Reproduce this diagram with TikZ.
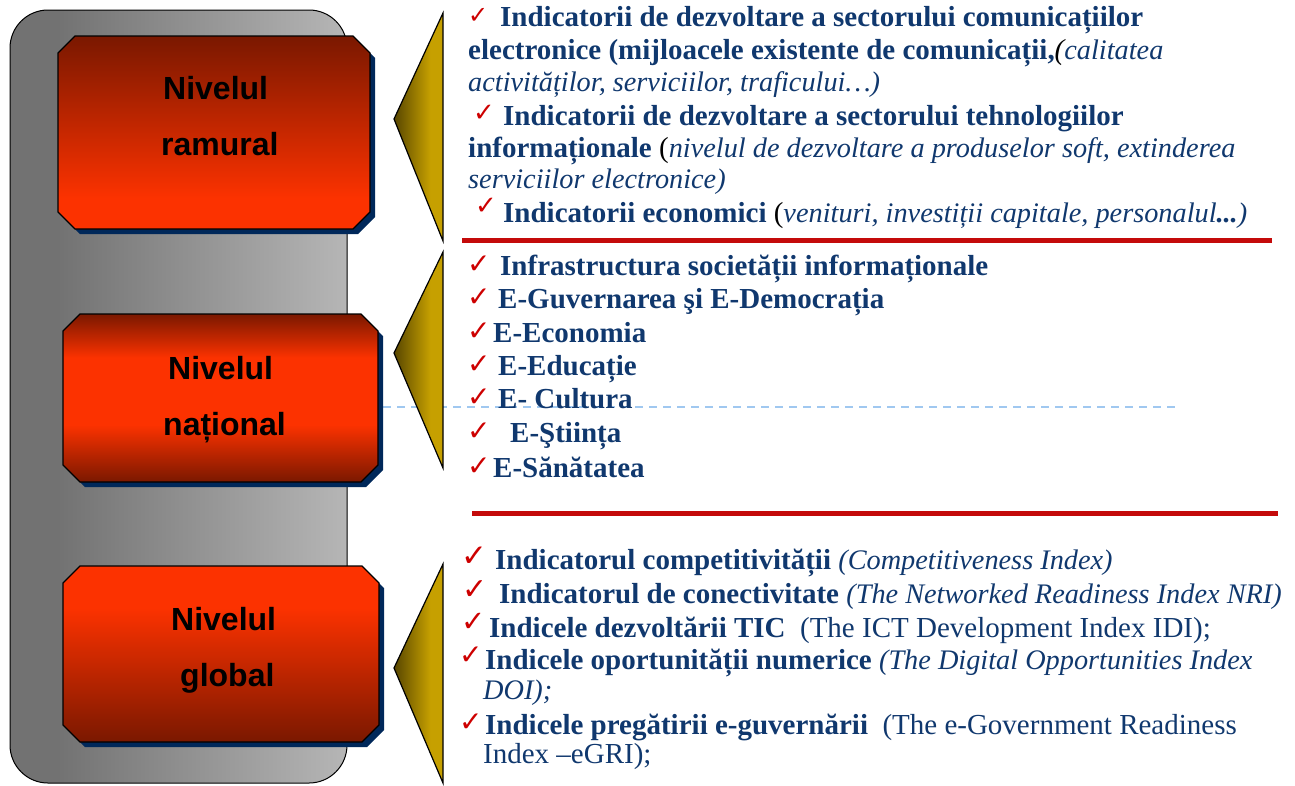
\documentclass[tikz,border=0pt]{standalone}
\usepackage{fontspec}
\setmainfont{Liberation Serif}
\newfontfamily\arialfont{Liberation Sans}
\newfontfamily\dejavufont{DejaVu Sans}
\definecolor{navytxt}{RGB}{16,56,110}
\definecolor{chkred}{RGB}{205,0,0}
\definecolor{linered}{RGB}{196,10,10}
\definecolor{pdark}{RGB}{114,114,114}
\definecolor{plight}{RGB}{182,182,182}
\definecolor{rdark}{RGB}{122,24,0}
\definecolor{rbright}{RGB}{252,50,0}
\definecolor{gdark}{RGB}{88,70,0}
\definecolor{ggold}{RGB}{198,160,0}
\definecolor{shadownavy}{RGB}{0,40,90}
\definecolor{dashblue}{RGB}{160,200,240}
\pgfdeclarehorizontalshading{panelshade}{100bp}{color(0bp)=(pdark); color(25bp)=(pdark); color(32bp)=(pdark); color(75bp)=(plight); color(100bp)=(plight)}
\pgfdeclarehorizontalshading{chevshade}{100bp}{color(0bp)=(gdark); color(25bp)=(gdark); color(62bp)=(ggold); color(100bp)=(ggold)}
\pgfdeclareverticalshading{boxone}{100bp}{color(0bp)=(rbright); color(25bp)=(rbright); color(33bp)=(rbright); color(75bp)=(rdark); color(100bp)=(rdark)}
\pgfdeclareverticalshading{boxtwo}{100bp}{color(0bp)=(rdark); color(25bp)=(rdark); color(42bp)=(rbright); color(62bp)=(rbright); color(75bp)=(rdark); color(100bp)=(rdark)}
\pgfdeclareverticalshading{boxthree}{100bp}{color(0bp)=(rdark); color(25bp)=(rdark); color(63bp)=(rbright); color(75bp)=(rbright); color(100bp)=(rbright)}
\newcommand\bld[1]{\textbf{#1}}
\newcommand\itl[1]{{\fontsize{28.3}{28.3}\selectfont\itshape #1}}
\newcommand\blk[1]{{\color{black}#1}}
\newcommand\octo[5]{({#1+#5},#2) -- ({#3-#5},#2) -- (#3,{#2+#5}) -- (#3,{#4-#5}) -- ({#3-#5},#4) -- ({#1+#5},#4) -- (#1,{#4-#5}) -- (#1,{#2+#5}) -- cycle}
\newcommand\levelbox[5]{%
  \fill[shadownavy] \octo{#1+5}{#2+5}{#3+5}{#4+5}{17};
  \shadedraw[shading=#5, line width=1.2pt] \octo{#1}{#2}{#3}{#4}{17};
}
\tikzset{
  lbl/.style={font=\arialfont\bfseries\fontsize{32}{32}\selectfont, inner sep=0pt, anchor=base west},
  txt/.style={font=\fontsize{29}{29}\selectfont, text=navytxt, inner sep=0pt, anchor=base west},
  chk/.style={font=\dejavufont\bfseries\fontsize{#1}{#1}\selectfont, text=chkred, inner sep=0pt, anchor=base west},
  chk/.default=28,
  chev/.style={shading=chevshade, line width=1.2pt},
}
\begin{document}
\begin{tikzpicture}[x=1pt,y=-1pt]
\useasboundingbox (0,0) rectangle (1295,785);
% panel
\shadedraw[shading=panelshade, rounded corners=38pt, line width=1pt] (10,10) rectangle (347,783);
% dashed line
\draw[dashblue, line width=1.5pt, dash pattern=on 8pt off 6pt] (383,407) -- (1177,407);
% chevrons
\shadedraw[chev] (443,13) -- (394,119) -- (443,241) -- cycle;
\shadedraw[chev] (443,252) -- (394,353) -- (443,468) -- cycle;
\shadedraw[chev] (443,564) -- (394,668) -- (443,783) -- cycle;
% boxes
\levelbox{58}{36}{370}{229}{boxone}
\levelbox{63}{314}{378}{482}{boxtwo}
\levelbox{63}{566}{379}{742}{boxthree}
\node[lbl] (b1a) at (163,99) {Nivelul};
\node[lbl] (b1b) at (161,155) {ramural};
\node[lbl] (b2a) at (168,379) {Nivelul};
\node[lbl] (b2b) at (163,435) {național};
\node[lbl] (b3a) at (171,630) {Nivelul};
\node[lbl] (b3b) at (180,686) {global};
% red separators
\draw[linered, line width=5pt] (462,240) -- (1272,240);
\draw[linered, line width=5pt] (472,513) -- (1278,513);
% section 1
\node[chk=24] (c1a) at (468,23) {✓};
\node[txt] (t1a) at (500,26) {\bld{Indicatorii de dezvoltare a sectorului comunicațiilor}};
\node[txt] (t1b) at (468,59) {\bld{electronice (mijloacele existente de comunicații,}\blk{\itshape(}\itl{calitatea}};
\node[txt] (t1c) at (468,91) {\itl{activităților, serviciilor, traficului…)}};
\node[chk=26] (c1d) at (473,121) {✓};
\node[txt] (t1d) at (503,125) {\bld{Indicatorii de dezvoltare a sectorului tehnologiilor}};
\node[txt] (t1e) at (468,157) {\bld{informaționale} \blk{(}\itl{nivelul de dezvoltare a produselor soft, extinderea}};
\node[txt] (t1f) at (468,188) {\itl{serviciilor electronice)}};
\node[chk=26] (c1g) at (475,214) {✓};
\node[txt] (t1g) at (503,222) {\bld{Indicatorii economici} \blk{(}\itl{venituri, investiții capitale, personalul\textbf{...})}};
% section 2
\node[chk] (c2a) at (467,273) {✓};
\node[txt] (t2a) at (500,275) {\bld{Infrastructura societății informaționale}};
\node[chk] (c2b) at (467,306) {✓};
\node[txt] (t2b) at (498,308) {\bld{E-Guvernarea şi E-Democrația}};
\node[chk] (c2c) at (467,340) {✓};
\node[txt] (t2c) at (493,342) {\bld{E-Economia}};
\node[chk] (c2d) at (467,373) {✓};
\node[txt] (t2d) at (498,375) {\bld{E-Educație}};
\node[chk] (c2e) at (467,406) {✓};
\node[txt] (t2e) at (498,408) {\bld{E- Cultura}};
\node[chk] (c2f) at (467,440) {✓};
\node[txt] (t2f) at (510,442) {\bld{E-Ştiința}};
\node[chk] (c2g) at (467,475) {✓};
\node[txt] (t2g) at (493,477) {\bld{E-Sănătatea}};
% section 3
\node[chk=31] (c3a) at (461,566) {✓};
\node[txt] (t3a) at (495,569) {\bld{Indicatorul competitivității} \itl{(Competitiveness Index)}};
\node[chk=30] (c3b) at (462,599) {✓};
\node[txt] (t3b) at (499,603) {\bld{Indicatorul de conectivitate} \itl{(The Networked Readiness Index NRI)}};
\node[chk=29] (c3c) at (461,631) {✓};
\node[txt] (t3c) at (489,637) {\bld{Indicele dezvoltării TIC}\ \ (The ICT Development Index IDI);};
\node[chk=28] (c3d) at (459,664) {✓};
\node[txt] (t3d) at (485,669) {\bld{Indicele oportunității numerice} \itl{(The Digital Opportunities Index}};
\node[txt] (t3e) at (483,699) {\itl{DOI);}};
\node[chk=28] (c3f) at (459,731) {✓};
\node[txt] (t3f) at (485,734) {\bld{Indicele pregătirii e-guvernării}\ \ (The e-Government Readiness};
\node[txt] (t3g) at (483,763) {Index –eGRI);};
\end{tikzpicture}
\end{document}
